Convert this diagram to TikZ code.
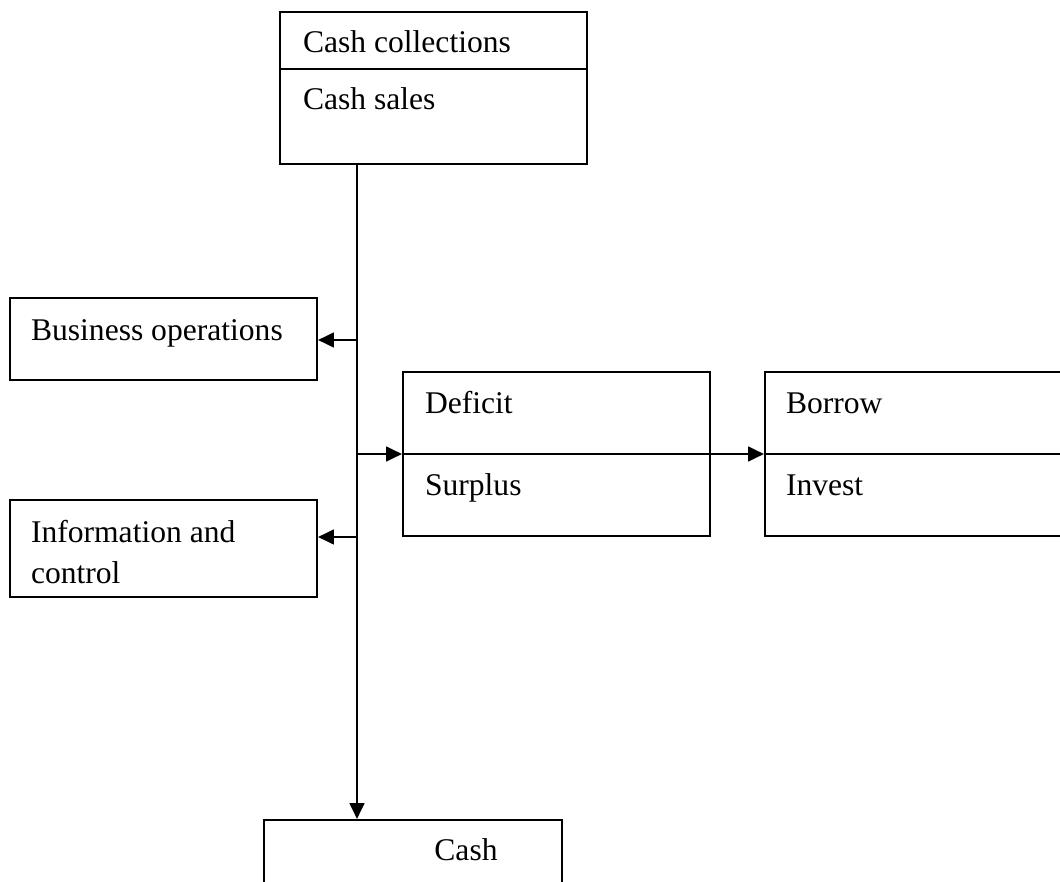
\documentclass[tikz,border=0pt]{standalone}
\usepackage{fontspec}
\setmainfont{Liberation Serif}
\usetikzlibrary{arrows.meta}
\newcommand{\px}{0.38pt}
\begin{document}
\begin{tikzpicture}[x=\px, y=-\px, line width=0.8pt,
  box/.style={draw, rectangle, inner sep=0pt},
  lbl/.style={anchor=base west, inner sep=0pt, font=\fontsize{12}{14}\selectfont},
  flow/.style={-{Triangle[length=6pt,width=5.6pt]}}]
  \useasboundingbox (0,0) rectangle (1060,882);
  \clip (0,0) rectangle (1060,882);
  \node (collect) [box, minimum width=307*\px, minimum height=152*\px] at (433.5,88) {};
  \node (ops) [box, minimum width=307*\px, minimum height=82*\px] at (163.5,339) {};
  \node (info) [box, minimum width=307*\px, minimum height=97*\px] at (163.5,548.5) {};
  \node (gap) [box, minimum width=307*\px, minimum height=164*\px] at (556.5,454) {};
  \node (fin) [box, minimum width=400*\px, minimum height=164*\px] at (965,454) {};
  \node (cash) [box, minimum width=298*\px, minimum height=90*\px] at (413,865) {};
  \draw (collect.west |- 0,69) -- (collect.east |- 0,69);
  \node (collecttxt) [lbl] at (302,53) {Cash collections};
  \node (salestxt) [lbl] at (302,110) {Cash sales};
  \node (opstxt) [lbl] at (30,340) {Business operations};
  \node (infotxt) [lbl] at (30,542) {Information and};
  \node (controltxt) [lbl] at (30,583) {control};
  \node (deficittxt) [lbl] at (424,413) {Deficit};
  \node (surplustxt) [lbl] at (424,495) {Surplus};
  \node (borrowtxt) [lbl] at (785,413) {Borrow};
  \node (investtxt) [lbl] at (785,495) {Invest};
  \node (cashtxt) [lbl, anchor=base] at (466,860) {Cash};
  \coordinate (trunk) at (357,0);
  \coordinate (tapops) at (357,340);
  \coordinate (tapgap) at (357,454);
  \coordinate (tapinfo) at (357,537);
  \draw [flow] (collect.south -| trunk) -- (cash.north -| trunk);
  \draw [flow] (tapops) -- (ops.east |- tapops);
  \draw [flow] (tapinfo) -- (info.east |- tapinfo);
  \draw [flow] (tapgap) -- (gap.west);
  \draw (gap.west) -- (gap.east);
  \draw [flow] (gap.east) -- (fin.west);
  \draw (fin.west) -- (fin.east);
\end{tikzpicture}
\end{document}
